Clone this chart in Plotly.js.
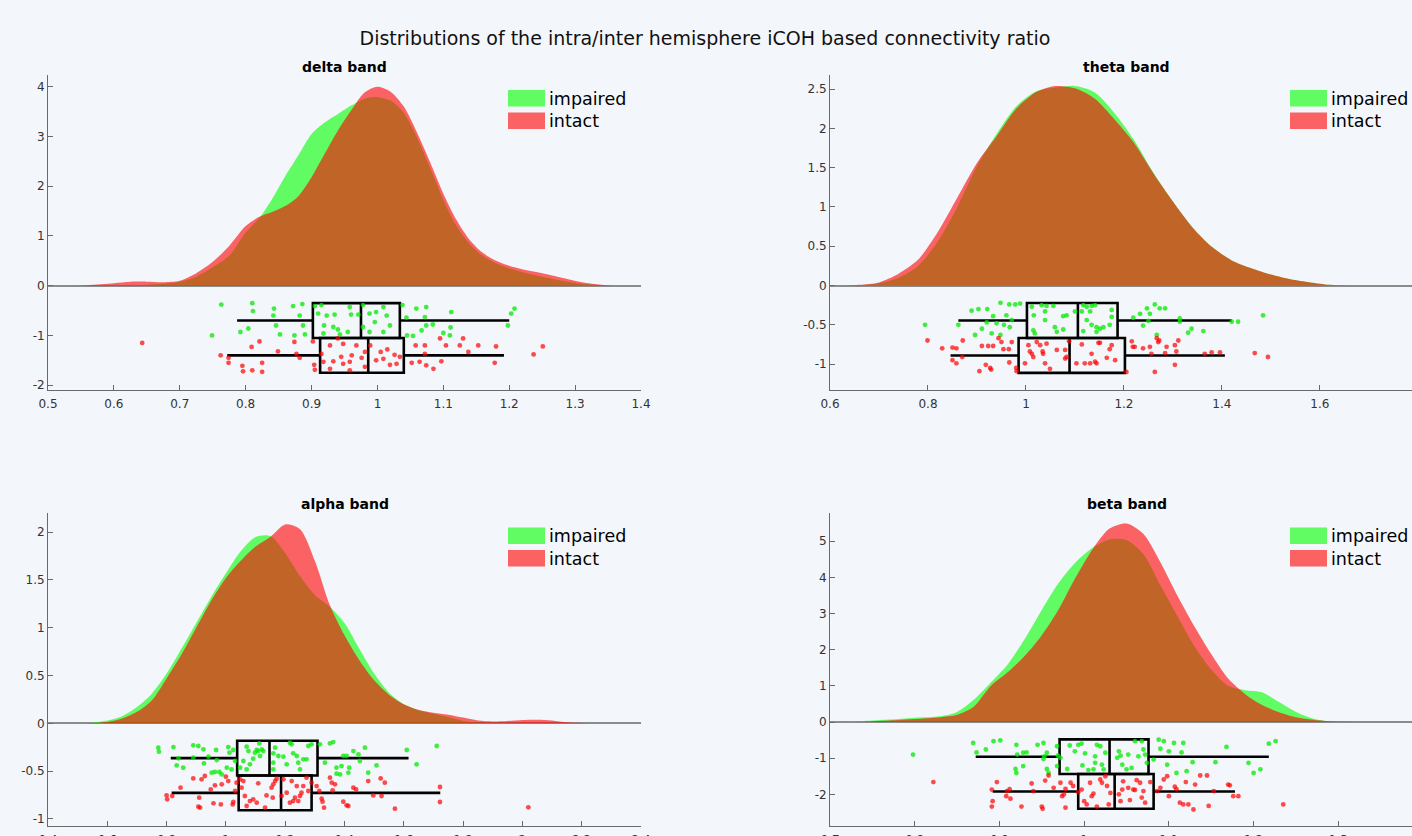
<!DOCTYPE html>
<html>
<head>
<meta charset="utf-8">
<script src="https://cdn.plot.ly/plotly-3.0.1.min.js"></script>
<style>
html,body{margin:0;padding:0;background:#f3f6fa;}
#chart{width:1412px;height:836px;}
</style>
</head>
<body>
<div id="chart"></div>
<script>
// ---------------- DATA ----------------
const groupNames = ['impaired', 'intact'];
const bandTitles = ['delta band', 'theta band', 'alpha band', 'beta band'];
const mainTitle = 'Distributions of the intra/inter hemisphere iCOH based connectivity ratio';

// kernel density curves (x grid + density per group)
const deltaGrid = [0.53,0.56,0.6,0.625,0.65,0.675,0.7,0.725,0.75,0.775,0.8,0.82,0.84,0.86,0.88,0.9,0.92,0.94,0.96,0.98,1.0,1.02,1.04,1.06,1.08,1.1,1.12,1.14,1.16,1.18,1.2,1.22,1.25,1.28,1.31,1.34,1.36];
const deltaImpairedDensity = [0,0,0.005,0.01,0.02,0.04,0.08,0.18,0.37,0.6,1.07,1.35,1.74,2.2,2.62,3.05,3.28,3.45,3.62,3.76,3.79,3.72,3.47,2.98,2.37,1.73,1.2,0.84,0.6,0.45,0.35,0.27,0.18,0.1,0.04,0.01,0];
const deltaIntactDensity = [0,0.01,0.05,0.08,0.08,0.07,0.1,0.25,0.48,0.8,1.2,1.38,1.48,1.6,1.8,2.18,2.65,3.12,3.52,3.88,4.0,3.9,3.6,3.08,2.48,1.85,1.32,0.92,0.66,0.5,0.4,0.33,0.25,0.16,0.07,0.02,0];

const thetaGrid = [0.62,0.66,0.7,0.74,0.78,0.82,0.86,0.9,0.94,0.98,1.02,1.06,1.1,1.14,1.18,1.22,1.26,1.3,1.34,1.38,1.42,1.46,1.5,1.54,1.58,1.62,1.67];
const thetaImpairedDensity = [0,0.005,0.03,0.1,0.25,0.56,1.0,1.52,1.93,2.28,2.47,2.52,2.54,2.46,2.2,1.86,1.44,1.07,0.74,0.49,0.32,0.22,0.14,0.08,0.04,0.01,0];
const thetaIntactDensity = [0,0.01,0.04,0.15,0.33,0.68,1.12,1.56,1.9,2.25,2.46,2.54,2.51,2.38,2.12,1.82,1.43,1.07,0.74,0.49,0.32,0.22,0.14,0.08,0.04,0.01,0];

const alphaGrid = [0.53,0.6,0.65,0.7,0.75,0.8,0.85,0.9,0.95,1.0,1.05,1.1,1.15,1.2,1.25,1.3,1.35,1.4,1.45,1.5,1.55,1.6,1.65,1.7,1.75,1.8,1.85,1.9,1.95,2.0,2.05,2.1,2.15,2.2,2.24];
const alphaImpairedDensity = [0,0.03,0.075,0.17,0.31,0.52,0.78,1.05,1.32,1.57,1.8,1.95,1.96,1.78,1.54,1.34,1.22,1.05,0.78,0.52,0.32,0.2,0.14,0.1,0.065,0.025,0.008,0,0,0,0,0,0,0,0];
const alphaIntactDensity = [0,0.015,0.05,0.12,0.24,0.47,0.72,1.0,1.28,1.52,1.7,1.85,1.95,2.08,2.03,1.7,1.24,0.92,0.66,0.45,0.3,0.2,0.14,0.11,0.09,0.06,0.03,0.02,0.025,0.035,0.038,0.03,0.01,0.003,0];

const betaGrid = [0.71,0.74,0.77,0.8,0.83,0.85,0.87,0.89,0.91,0.93,0.95,0.97,0.99,1.01,1.03,1.05,1.07,1.09,1.11,1.13,1.15,1.17,1.19,1.21,1.23,1.25,1.27,1.29,1.32];
const betaImpairedDensity = [0,0.03,0.07,0.12,0.16,0.28,0.62,1.1,1.6,2.3,3.1,3.85,4.42,4.82,5.05,5.03,4.64,3.78,2.93,2.1,1.45,1.0,0.88,0.82,0.55,0.28,0.1,0.02,0];
const betaIntactDensity = [0,0.01,0.04,0.08,0.13,0.2,0.43,1.0,1.38,1.83,2.4,3.12,4.0,4.78,5.35,5.49,5.2,4.42,3.5,2.65,1.88,1.2,0.77,0.47,0.27,0.13,0.06,0.02,0];

// box statistics: [lower whisker, q1, median, q3, upper whisker]
const deltaImpairedBox = [0.787, 0.902, 0.975, 1.034, 1.200];
const deltaIntactBox   = [0.772, 0.913, 0.986, 1.040, 1.192];
const deltaBoxPos      = [-0.70, -1.40];
const thetaImpairedBox = [0.862, 1.002, 1.106, 1.187, 1.420];
const thetaIntactBox   = [0.846, 0.985, 1.089, 1.202, 1.406];
const thetaBoxPos      = [-0.445, -0.89];
const alphaImpairedBox = [0.814, 1.038, 1.147, 1.309, 1.616];
const alphaIntactBox   = [0.817, 1.043, 1.186, 1.289, 1.723];
const alphaBoxPos      = [-0.364, -0.728];
const betaImpairedBox  = [0.872, 0.971, 1.030, 1.076, 1.218];
const betaIntactBox    = [0.892, 0.993, 1.036, 1.082, 1.178];
const betaBoxPos       = [-0.96, -1.92];

// individual (jittered) observations [value, jitter height]
const deltaImpairedPoints = [[0.763,-0.38],[0.810,-0.35],[0.811,-0.51],[0.843,-0.46],[0.842,-0.60],[0.804,-0.86],[0.792,-0.93],[0.749,-1.00],[0.846,-0.80],[0.852,-0.98],[0.872,-0.41],[0.886,-0.37],[0.882,-0.60],[0.887,-0.80],[0.874,-1.00],[0.890,-0.98],[0.910,-0.56],[0.915,-0.39],[0.923,-0.60],[0.919,-0.80],[0.933,-0.83],[0.940,-0.88],[0.935,-0.58],[0.958,-0.43],[0.960,-0.58],[0.971,-0.58],[0.955,-0.93],[0.943,-0.98],[0.978,-0.39],[0.988,-0.56],[0.998,-0.53],[1.009,-0.43],[1.014,-0.60],[0.996,-0.73],[0.988,-0.93],[1.009,-0.93],[1.019,-0.80],[1.038,-0.39],[1.044,-0.64],[1.059,-0.46],[1.074,-0.43],[1.072,-0.63],[1.074,-0.80],[1.067,-0.90],[1.054,-1.01],[1.045,-1.00],[1.084,-0.78],[1.100,-0.95],[1.110,-1.00],[1.112,-0.53],[1.111,-0.84],[1.198,-0.80],[1.203,-0.56],[1.208,-0.46],[0.918,-0.96],[0.978,-0.83],[0.905,-0.41]];
const deltaIntactPoints = [[0.643,-1.15],[0.762,-1.40],[0.774,-1.45],[0.774,-1.55],[0.795,-1.61],[0.796,-1.72],[0.810,-1.70],[0.825,-1.55],[0.825,-1.73],[0.809,-1.23],[0.821,-1.12],[0.849,-1.32],[0.877,-1.37],[0.874,-1.13],[0.882,-1.45],[0.902,-1.12],[0.904,-1.59],[0.905,-1.69],[0.928,-1.20],[0.933,-1.52],[0.940,-1.06],[0.948,-1.17],[0.958,-1.53],[0.961,-1.40],[0.968,-1.20],[0.976,-1.45],[0.981,-1.63],[0.981,-1.33],[0.928,-1.67],[0.958,-1.70],[0.989,-1.20],[0.998,-1.50],[1.005,-1.33],[1.009,-1.47],[1.015,-1.28],[1.019,-1.59],[1.026,-1.39],[1.029,-1.57],[1.034,-1.43],[1.052,-1.55],[1.058,-1.20],[1.064,-1.53],[1.072,-1.20],[1.072,-1.37],[1.074,-1.60],[1.085,-1.67],[1.097,-1.52],[1.095,-1.06],[1.104,-1.20],[1.125,-1.20],[1.130,-1.06],[1.138,-1.33],[1.153,-1.20],[1.178,-1.55],[1.180,-1.22],[0.915,-1.37],[0.945,-1.43],[0.948,-1.57],[0.918,-1.53],[1.237,-1.38],[1.251,-1.22]];

const thetaImpairedPoints = [[0.794,-0.50],[0.862,-0.50],[0.889,-0.32],[0.903,-0.30],[0.921,-0.30],[0.948,-0.22],[0.966,-0.24],[0.978,-0.24],[0.988,-0.23],[0.933,-0.39],[0.960,-0.38],[0.940,-0.48],[0.910,-0.55],[0.920,-0.47],[0.896,-0.63],[0.930,-0.61],[0.955,-0.50],[0.967,-0.53],[0.971,-0.44],[0.948,-0.63],[1.012,-0.27],[1.016,-0.38],[1.032,-0.25],[1.042,-0.26],[1.039,-0.33],[1.056,-0.26],[1.039,-0.44],[1.015,-0.57],[1.018,-0.61],[1.063,-0.59],[1.059,-0.53],[1.076,-0.39],[1.083,-0.38],[1.076,-0.56],[1.100,-0.33],[1.117,-0.25],[1.124,-0.27],[1.134,-0.26],[1.141,-0.25],[1.131,-0.33],[1.114,-0.33],[1.124,-0.44],[1.134,-0.50],[1.144,-0.53],[1.151,-0.55],[1.158,-0.53],[1.171,-0.50],[1.175,-0.40],[1.175,-0.31],[1.144,-0.59],[1.117,-0.58],[1.219,-0.41],[1.233,-0.36],[1.239,-0.51],[1.247,-0.29],[1.253,-0.36],[1.263,-0.24],[1.273,-0.29],[1.284,-0.29],[1.250,-0.45],[1.267,-0.63],[1.314,-0.42],[1.314,-0.46],[1.338,-0.55],[1.331,-0.60],[1.362,-0.58],[1.420,-0.46],[1.433,-0.46],[1.484,-0.38]];
const thetaIntactPoints = [[0.799,-0.70],[0.829,-0.80],[0.850,-0.79],[0.858,-0.80],[0.871,-0.70],[0.850,-0.95],[0.858,-0.99],[0.870,-0.91],[0.905,-1.09],[0.918,-1.01],[0.927,-1.05],[0.929,-1.07],[0.910,-0.77],[0.923,-0.77],[0.933,-0.77],[0.944,-0.67],[0.950,-0.72],[0.954,-0.81],[0.965,-0.81],[0.971,-0.72],[0.966,-0.98],[0.980,-1.05],[0.981,-1.09],[0.998,-0.99],[1.005,-0.76],[1.012,-0.87],[1.015,-0.91],[1.022,-0.72],[1.029,-0.76],[1.034,-0.84],[1.035,-0.87],[1.039,-0.99],[1.042,-0.74],[1.063,-0.82],[1.080,-0.82],[1.080,-0.93],[1.083,-0.91],[1.088,-0.71],[1.103,-0.99],[1.114,-0.75],[1.120,-0.99],[1.131,-0.99],[1.134,-0.87],[1.141,-0.97],[1.144,-0.99],[1.148,-0.73],[1.151,-0.73],[1.165,-0.92],[1.171,-0.81],[1.175,-0.76],[1.182,-0.95],[1.205,-1.10],[1.216,-0.71],[1.218,-0.78],[1.222,-0.78],[1.239,-0.80],[1.253,-0.78],[1.267,-0.67],[1.270,-0.72],[1.272,-0.70],[1.256,-0.87],[1.284,-0.86],[1.287,-0.78],[1.304,-0.76],[1.307,-0.84],[1.311,-0.70],[1.304,-1.01],[1.365,-0.87],[1.379,-0.85],[1.396,-0.85],[1.467,-0.86],[1.494,-0.91],[1.263,-1.10],[1.008,-0.84],[1.049,-1.06]];

const alphaImpairedPoints = [[0.772,-0.255],[0.774,-0.297],[0.823,-0.248],[0.840,-0.366],[0.856,-0.464],[0.834,-0.440],[0.890,-0.230],[0.907,-0.237],[0.924,-0.272],[0.926,-0.419],[0.890,-0.360],[0.941,-0.349],[0.967,-0.279],[0.969,-0.384],[0.963,-0.509],[0.952,-0.516],[0.978,-0.509],[0.986,-0.534],[1.003,-0.464],[1.008,-0.248],[1.012,-0.307],[1.025,-0.279],[1.019,-0.482],[1.031,-0.394],[1.048,-0.464],[1.059,-0.394],[1.070,-0.244],[1.070,-0.482],[1.081,-0.429],[1.076,-0.290],[1.098,-0.307],[1.104,-0.279],[1.109,-0.290],[1.115,-0.342],[1.121,-0.272],[1.126,-0.290],[1.092,-0.370],[1.113,-0.210],[1.160,-0.314],[1.160,-0.412],[1.166,-0.255],[1.160,-0.482],[1.177,-0.342],[1.194,-0.349],[1.205,-0.429],[1.216,-0.203],[1.222,-0.220],[1.227,-0.314],[1.239,-0.342],[1.244,-0.412],[1.250,-0.482],[1.261,-0.377],[1.272,-0.377],[1.278,-0.237],[1.289,-0.220],[1.317,-0.220],[1.334,-0.412],[1.351,-0.210],[1.362,-0.196],[1.373,-0.464],[1.373,-0.527],[1.385,-0.534],[1.390,-0.447],[1.396,-0.342],[1.407,-0.342],[1.413,-0.516],[1.416,-0.464],[1.430,-0.290],[1.447,-0.325],[1.452,-0.394],[1.469,-0.255],[1.480,-0.516],[1.508,-0.440],[1.610,-0.279],[1.643,-0.429],[1.711,-0.237]];
const alphaIntactPoints = [[0.800,-0.754],[0.802,-0.795],[0.819,-0.760],[0.847,-0.673],[0.890,-0.576],[0.907,-0.872],[0.913,-0.882],[0.918,-0.586],[0.910,-0.778],[0.929,-0.551],[0.949,-0.691],[0.958,-0.837],[0.963,-0.649],[0.983,-0.848],[0.986,-0.638],[1.000,-0.558],[1.008,-0.604],[1.023,-0.848],[1.025,-0.823],[1.031,-0.708],[1.036,-0.621],[1.048,-0.586],[1.053,-0.673],[1.059,-0.604],[1.064,-0.760],[1.070,-0.865],[1.081,-0.813],[1.092,-0.795],[1.104,-0.830],[1.109,-0.628],[1.132,-0.882],[1.137,-0.754],[1.154,-0.673],[1.160,-0.638],[1.158,-0.778],[1.166,-0.604],[1.171,-0.579],[1.188,-0.760],[1.194,-0.586],[1.205,-0.726],[1.216,-0.830],[1.222,-0.604],[1.227,-0.813],[1.233,-0.778],[1.239,-0.656],[1.244,-0.813],[1.250,-0.760],[1.255,-0.726],[1.261,-0.656],[1.272,-0.569],[1.278,-0.708],[1.289,-0.621],[1.306,-0.656],[1.315,-0.708],[1.323,-0.788],[1.326,-0.820],[1.331,-0.882],[1.351,-0.569],[1.357,-0.621],[1.360,-0.701],[1.368,-0.638],[1.396,-0.820],[1.407,-0.858],[1.413,-0.865],[1.430,-0.673],[1.439,-0.691],[1.480,-0.604],[1.497,-0.754],[1.522,-0.576],[1.525,-0.760],[1.536,-0.621],[1.570,-0.893],[1.722,-0.666],[1.722,-0.823],[2.020,-0.879]];

const betaImpairedPoints = [[0.798,-0.90],[0.869,-0.58],[0.873,-0.84],[0.884,-0.76],[0.893,-0.53],[0.901,-0.51],[0.920,-0.63],[0.921,-0.90],[0.928,-0.85],[0.932,-0.84],[0.919,-1.30],[0.920,-1.41],[0.928,-1.22],[0.945,-0.63],[0.952,-0.58],[0.953,-0.95],[0.956,-0.85],[0.952,-1.02],[0.956,-1.30],[0.958,-1.41],[0.968,-0.67],[0.969,-0.93],[0.972,-0.99],[0.968,-1.22],[0.980,-1.30],[0.983,-0.65],[0.989,-0.81],[0.993,-0.63],[0.997,-0.60],[1.001,-0.87],[0.998,-1.20],[1.005,-1.33],[1.011,-1.31],[1.015,-0.63],[1.019,-0.67],[1.013,-0.95],[1.013,-1.13],[1.021,-1.18],[1.025,-0.85],[1.023,-1.31],[1.039,-0.99],[1.041,-0.81],[1.043,-0.93],[1.045,-1.18],[1.050,-1.31],[1.052,-0.90],[1.056,-1.27],[1.060,-0.53],[1.064,-0.95],[1.068,-0.53],[1.070,-0.76],[1.072,-0.90],[1.074,-1.13],[1.082,-1.04],[1.088,-0.49],[1.094,-0.53],[1.090,-0.74],[1.098,-1.18],[1.100,-0.81],[1.106,-0.58],[1.117,-0.58],[1.115,-0.84],[1.109,-1.41],[1.121,-1.36],[1.128,-1.11],[1.155,-1.11],[1.168,-0.69],[1.194,-1.13],[1.200,-1.41],[1.208,-1.31],[1.218,-0.60],[1.226,-0.53]];
const betaIntactPoints = [[0.822,-1.66],[0.891,-1.87],[0.892,-2.19],[0.891,-2.34],[0.897,-1.66],[0.908,-2.05],[0.913,-2.12],[0.912,-1.86],[0.926,-2.34],[0.938,-1.70],[0.940,-1.91],[0.950,-2.34],[0.951,-2.40],[0.954,-1.62],[0.958,-1.48],[0.964,-1.82],[0.972,-1.68],[0.974,-2.05],[0.976,-2.00],[0.978,-2.37],[0.978,-1.85],[0.984,-1.68],[0.987,-1.77],[0.993,-1.94],[0.997,-1.87],[1.000,-2.19],[1.003,-2.28],[1.007,-1.68],[1.009,-2.05],[1.011,-1.98],[1.015,-2.34],[1.019,-1.59],[1.021,-1.68],[1.025,-1.50],[1.027,-1.77],[1.029,-2.28],[1.031,-1.96],[1.041,-2.00],[1.043,-2.19],[1.045,-1.87],[1.046,-1.64],[1.052,-1.82],[1.054,-2.16],[1.058,-1.87],[1.060,-1.88],[1.062,-1.61],[1.066,-1.68],[1.068,-2.09],[1.072,-2.23],[1.070,-1.91],[1.078,-1.66],[1.086,-1.91],[1.090,-1.82],[1.094,-1.59],[1.098,-1.50],[1.100,-2.05],[1.107,-1.79],[1.109,-1.86],[1.113,-2.23],[1.117,-2.28],[1.120,-1.66],[1.123,-2.28],[1.129,-2.42],[1.131,-1.73],[1.137,-1.48],[1.145,-1.48],[1.147,-2.32],[1.153,-1.91],[1.170,-1.73],[1.172,-1.75],[1.176,-2.05],[1.182,-2.05],[1.235,-2.28],[0.909,-1.91]];

// axis tick values
const deltaXTicks = [0.5,0.6,0.7,0.8,0.9,1,1.1,1.2,1.3,1.4];
const deltaYTicks = [-2,-1,0,1,2,3,4];
const thetaXTicks = [0.6,0.8,1,1.2,1.4,1.6,1.8];
const thetaYTicks = [-1,-0.5,0,0.5,1,1.5,2,2.5];
const alphaXTicks = [0.4,0.6,0.8,1,1.2,1.4,1.6,1.8,2,2.2,2.4];
const alphaYTicks = [-1,-0.5,0,0.5,1,1.5,2];
const betaXTicks = [0.7,0.8,0.9,1,1.1,1.2,1.3,1.4];
const betaYTicks = [-2,-1,0,1,2,3,4,5];

// ---------------- LAYOUT / STYLE ----------------
const W = 1412, H = 836;
const PX = x => x / W;
const PY = y => 1 - y / H;
const BG = '#f3f6fa';
const GREEN_FILL = 'rgba(0,255,0,0.6)';
const RED_FILL = 'rgba(255,0,0,0.6)';
const GREEN_DOT = 'rgba(0,235,0,0.75)';
const RED_DOT = 'rgba(255,0,0,0.7)';
const FONT = 'DejaVu Sans, Liberation Sans, sans-serif';

const panels = [
  {title: bandTitles[0], n: '', grid: deltaGrid, dens: [deltaImpairedDensity, deltaIntactDensity],
   pts: [deltaImpairedPoints, deltaIntactPoints], box: [deltaImpairedBox, deltaIntactBox], pos: deltaBoxPos,
   xt: deltaXTicks, yt: deltaYTicks, xr: [0.5, 1.4], yr: [-2.096, 4.235],
   xd: [PX(48), PX(641)], yd: [PY(390), PY(75)], tx: 344.5, ty: 67, lx: 508, ly: 90},
  {title: bandTitles[1], n: '2', grid: thetaGrid, dens: [thetaImpairedDensity, thetaIntactDensity],
   pts: [thetaImpairedPoints, thetaIntactPoints], box: [thetaImpairedBox, thetaIntactBox], pos: thetaBoxPos,
   xt: thetaXTicks, yt: thetaYTicks, xr: [0.6, 1.788], yr: [-1.33, 2.68],
   xd: [PX(830), 1], yd: [PY(390), PY(75)], tx: 1126.5, ty: 67, lx: 1290, ly: 90},
  {title: bandTitles[2], n: '3', grid: alphaGrid, dens: [alphaImpairedDensity, alphaIntactDensity],
   pts: [alphaImpairedPoints, alphaIntactPoints], box: [alphaImpairedBox, alphaIntactBox], pos: alphaBoxPos,
   xt: alphaXTicks, yt: alphaYTicks, xr: [0.4, 2.4], yr: [-1.074, 2.2],
   xd: [PX(48), PX(641)], yd: [PY(826), PY(513)], tx: 344.5, ty: 504, lx: 508, ly: 527.5},
  {title: bandTitles[3], n: '4', grid: betaGrid, dens: [betaImpairedDensity, betaIntactDensity],
   pts: [betaImpairedPoints, betaIntactPoints], box: [betaImpairedBox, betaIntactBox], pos: betaBoxPos,
   xt: betaXTicks, yt: betaYTicks, xr: [0.7, 1.387], yr: [-2.876, 5.78],
   xd: [PX(830), 1], yd: [PY(826), PY(513)], tx: 1126.5, ty: 504, lx: 1290, ly: 527.5}
];

const traces = [];
const layout = {
  width: W, height: H,
  margin: {l: 0, r: 0, t: 0, b: 0},
  paper_bgcolor: BG, plot_bgcolor: BG,
  showlegend: false,
  boxmode: 'overlay',
  font: {family: FONT, color: '#262626'},
  title: {text: mainTitle, x: PX(705), xanchor: 'center', y: PY(38), yanchor: 'middle',
          font: {family: FONT, size: 19, color: '#111'}},
  shapes: [], annotations: []
};

const fills = [GREEN_FILL, RED_FILL];
const dots = [GREEN_DOT, RED_DOT];

panels.forEach(p => {
  const xa = 'x' + p.n, ya = 'y' + p.n;
  for (let g = 0; g < 2; g++) {
    traces.push({type: 'scatter', mode: 'lines', xaxis: xa, yaxis: ya,
      x: p.grid, y: p.dens[g], fill: 'tozeroy', fillcolor: fills[g],
      line: {width: 0, shape: 'spline', smoothing: 0.8, color: fills[g]},
      name: groupNames[g], hoverinfo: 'skip'});
  }
  for (let g = 0; g < 2; g++) {
    traces.push({type: 'scatter', mode: 'markers', xaxis: xa, yaxis: ya,
      x: p.pts[g].map(d => d[0]), y: p.pts[g].map(d => d[1]),
      marker: {size: 4.8, color: dots[g], line: {width: 0}},
      name: groupNames[g], hoverinfo: 'skip'});
  }
  const bw = Math.abs(p.pos[0] - p.pos[1]);
  for (let g = 0; g < 2; g++) {
    const s = p.box[g];
    traces.push({type: 'box', orientation: 'h', xaxis: xa, yaxis: ya,
      y: [p.pos[g]], lowerfence: [s[0]], q1: [s[1]], median: [s[2]], q3: [s[3]], upperfence: [s[4]],
      width: bw, whiskerwidth: 0, boxpoints: false,
      fillcolor: 'rgba(0,0,0,0)', line: {color: '#000', width: 2.6},
      name: groupNames[g], hoverinfo: 'skip'});
  }
  const axCommon = {showgrid: false, showline: true, linecolor: '#6a6a6a', linewidth: 1,
    ticks: 'inside', ticklen: 5, tickwidth: 1, tickcolor: '#6a6a6a',
    tickfont: {family: FONT, size: 12, color: '#333'}, tickmode: 'array', fixedrange: true};
  layout['xaxis' + p.n] = Object.assign({}, axCommon, {
    domain: p.xd, range: p.xr, anchor: ya, zeroline: false, ticklabelstandoff: 3,
    tickvals: p.xt, ticktext: p.xt.map(String)});
  layout['yaxis' + p.n] = Object.assign({}, axCommon, {
    domain: p.yd, range: p.yr, anchor: xa, zeroline: true, zerolinecolor: '#8c8c8c', zerolinewidth: 2,
    tickvals: p.yt, ticktext: p.yt.map(String)});
  layout.annotations.push({text: '<b>' + p.title + '</b>', xref: 'paper', yref: 'paper',
    x: PX(p.tx), y: PY(p.ty), xanchor: 'center', yanchor: 'middle', showarrow: false,
    font: {family: FONT, size: 14, color: '#000'}});
  for (let g = 0; g < 2; g++) {
    const top = p.ly + g * 22.5;
    layout.shapes.push({type: 'rect', xref: 'paper', yref: 'paper',
      x0: PX(p.lx), x1: PX(p.lx + 37), y0: PY(top + 16.5), y1: PY(top),
      fillcolor: fills[g], line: {width: 0}});
    layout.annotations.push({text: groupNames[g], xref: 'paper', yref: 'paper',
      x: PX(p.lx + 39), y: PY(top + 8.5), xanchor: 'left', yanchor: 'middle', showarrow: false,
      font: {family: FONT, size: 17.5, color: '#000'}});
  }
});

Plotly.newPlot('chart', traces, layout, {displayModeBar: false, staticPlot: true});
</script>
</body>
</html>
